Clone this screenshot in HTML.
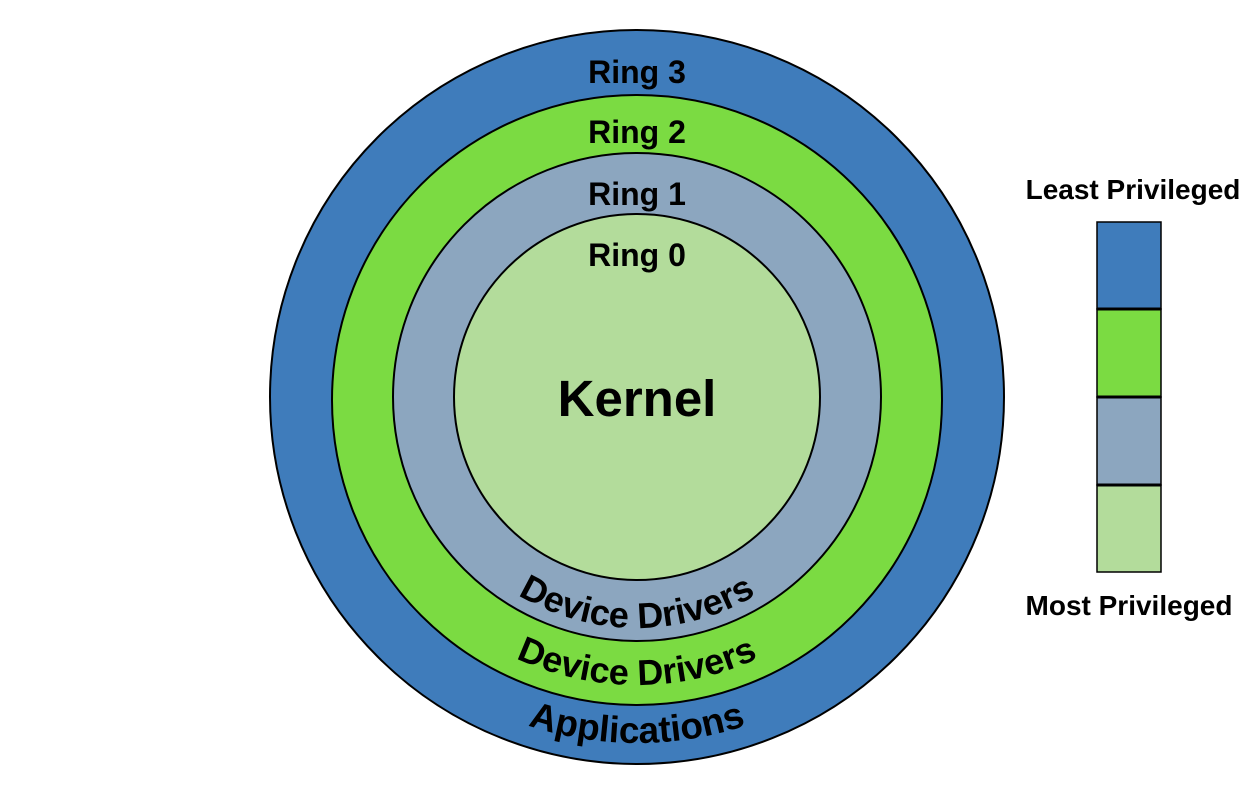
<!DOCTYPE html>
<html><head><meta charset="utf-8"><style>
html,body{margin:0;padding:0;background:#fff;width:1258px;height:787px;overflow:hidden}
text{font-family:"Liberation Sans",sans-serif;font-weight:bold;fill:#000}
</style></head><body>
<svg width="1258" height="787" viewBox="0 0 1258 787" xmlns="http://www.w3.org/2000/svg">
<defs>
<path id="a1" d="M 406 397 A 231 231 0 0 0 868 397"/>
<path id="a2" d="M 349 397 A 288 288 0 0 0 925 397"/>
<path id="a3" d="M 291 397 A 346 346 0 0 0 983 397"/>
</defs>
<circle cx="637" cy="397" r="367" fill="#3f7cbb" stroke="#000" stroke-width="2"/>
<circle cx="637" cy="400" r="305" fill="#7bdb42" stroke="#000" stroke-width="2"/>
<circle cx="637" cy="397" r="244" fill="#8ca6bf" stroke="#000" stroke-width="2"/>
<circle cx="637" cy="397" r="183" fill="#b3dc9b" stroke="#000" stroke-width="2"/>
<text x="637" y="83" font-size="32" text-anchor="middle">Ring 3</text>
<text x="637" y="143" font-size="32" text-anchor="middle">Ring 2</text>
<text x="637" y="205" font-size="32" text-anchor="middle">Ring 1</text>
<text x="637" y="266" font-size="32" text-anchor="middle">Ring 0</text>
<text x="637" y="416" font-size="51" text-anchor="middle">Kernel</text>
<text font-size="36"><textPath href="#a1" startOffset="50%" text-anchor="middle">Device Drivers</textPath></text>
<text font-size="36"><textPath href="#a2" startOffset="50%" text-anchor="middle">Device Drivers</textPath></text>
<text font-size="37"><textPath href="#a3" startOffset="50%" text-anchor="middle">Applications</textPath></text>
<text x="1133" y="199" font-size="28" text-anchor="middle">Least Privileged</text>
<text x="1129" y="615" font-size="28" text-anchor="middle">Most Privileged</text>
<rect x="1097" y="222" width="64" height="87" fill="#3f7cbb" stroke="#000" stroke-width="1.5"/>
<rect x="1097" y="309" width="64" height="88" fill="#7bdb42" stroke="#000" stroke-width="1.5"/>
<rect x="1097" y="397" width="64" height="88" fill="#8ca6bf" stroke="#000" stroke-width="1.5"/>
<rect x="1097" y="485" width="64" height="87" fill="#b3dc9b" stroke="#000" stroke-width="1.5"/>
<line x1="1097" y1="309" x2="1161" y2="309" stroke="#000" stroke-width="3"/>
<line x1="1097" y1="397" x2="1161" y2="397" stroke="#000" stroke-width="3"/>
<line x1="1097" y1="485" x2="1161" y2="485" stroke="#000" stroke-width="3"/>
</svg>
</body></html>
